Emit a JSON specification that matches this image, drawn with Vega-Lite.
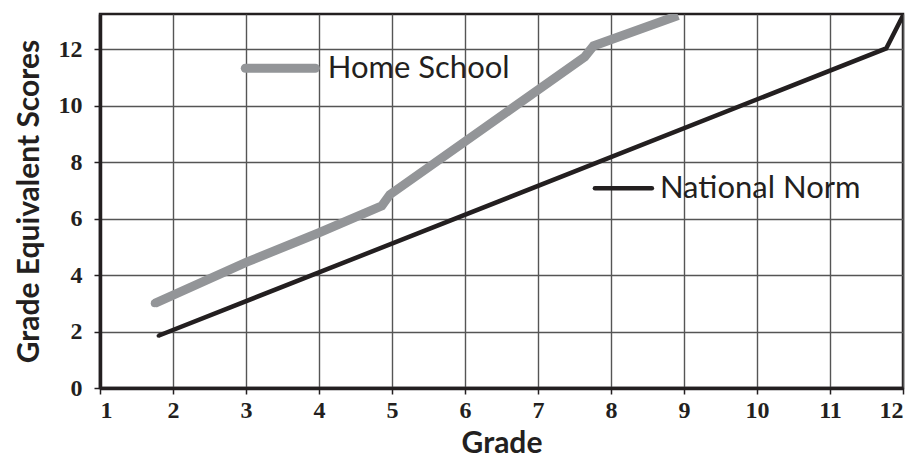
{
  "$schema": "https://vega.github.io/schema/vega-lite/v6.json",
  "width": 803,
  "height": 374,
  "autosize": {"type": "none"},
  "padding": {"left": 100, "top": 14, "right": 17, "bottom": 76},
  "background": "white",
  "config": {
    "view": {"stroke": "#231f20", "strokeWidth": 2.5},
    "axis": {
      "gridColor": "#555555",
      "gridWidth": 1.4,
      "gridOpacity": 1,
      "domainColor": "#231f20",
      "domainWidth": 3.5,
      "tickColor": "#231f20",
      "tickWidth": 1.5,
      "tickSize": 6,
      "labelFont": "Liberation Serif",
      "labelFontWeight": "bold",
      "labelFontSize": 24,
      "labelColor": "#231f20",
      "titleFont": "Lato",
      "titleFontWeight": "bold",
      "titleFontSize": 30,
      "titleColor": "#231f20"
    }
  },
  "datasets": {
    "lines": [
      {"series": "Home School", "grade": 1.75, "score": 3.0},
      {"series": "Home School", "grade": 3.0, "score": 4.45},
      {"series": "Home School", "grade": 4.0, "score": 5.5},
      {"series": "Home School", "grade": 4.86, "score": 6.45},
      {"series": "Home School", "grade": 4.97, "score": 6.85},
      {"series": "Home School", "grade": 7.64, "score": 11.73},
      {"series": "Home School", "grade": 7.76, "score": 12.12},
      {"series": "Home School", "grade": 8.92, "score": 13.2},
      {"series": "National Norm", "grade": 1.8, "score": 1.85},
      {"series": "National Norm", "grade": 11.77, "score": 12.03},
      {"series": "National Norm", "grade": 12.0, "score": 13.2}
    ],
    "keys": [
      {"series": "Home School", "x1": 2.99, "x2": 3.95, "y": 11.33, "tx": 4.12},
      {"series": "National Norm", "x1": 7.78, "x2": 8.56, "y": 7.08, "tx": 8.67}
    ]
  },
  "layer": [
    {
      "data": {"name": "lines"},
      "mark": {"type": "line", "strokeCap": "butt", "strokeJoin": "miter", "clip": true},
      "encoding": {
        "x": {
          "field": "grade", "type": "quantitative",
          "scale": {"domain": [1, 12], "nice": false, "zero": false},
          "axis": {"values": [1,2,3,4,5,6,7,8,9,10,11,12], "format": "d", "title": "Grade", "labelPadding": 4, "titlePadding": 6, "grid": true}
        },
        "y": {
          "field": "score", "type": "quantitative",
          "scale": {"domain": [0, 13.25], "nice": false},
          "axis": {"values": [0,2,4,6,8,10,12], "title": "Grade Equivalent Scores", "labelPadding": 12, "titlePadding": 14, "grid": true}
        },
        "color": {"field": "series", "type": "nominal", "scale": {"domain": ["Home School", "National Norm"], "range": ["#939598", "#231f20"]}, "legend": null},
        "strokeWidth": {"field": "series", "type": "nominal", "scale": {"domain": ["Home School", "National Norm"], "range": [9, 4.5]}, "legend": null},
        "detail": {"field": "series"}
      }
    },
    {
      "data": {"name": "lines"},
      "transform": [{"filter": "datum.grade < 2"}],
      "mark": {"type": "point", "filled": true, "opacity": 1, "clip": true},
      "encoding": {
        "x": {"field": "grade", "type": "quantitative"},
        "y": {"field": "score", "type": "quantitative"},
        "color": {"field": "series", "type": "nominal", "scale": {"domain": ["Home School", "National Norm"], "range": ["#939598", "#231f20"]}, "legend": null},
        "size": {"field": "series", "type": "nominal", "scale": {"domain": ["Home School", "National Norm"], "range": [64, 14]}, "legend": null}
      }
    },
    {
      "data": {"name": "keys"},
      "mark": {"type": "rule", "strokeCap": "round"},
      "encoding": {
        "x": {"field": "x1", "type": "quantitative"},
        "x2": {"field": "x2"},
        "y": {"field": "y", "type": "quantitative"},
        "color": {"field": "series", "type": "nominal", "scale": {"domain": ["Home School", "National Norm"], "range": ["#939598", "#231f20"]}, "legend": null},
        "strokeWidth": {"field": "series", "type": "nominal", "scale": {"domain": ["Home School", "National Norm"], "range": [9, 4.5]}, "legend": null}
      }
    },
    {
      "data": {"name": "keys"},
      "mark": {"type": "text", "align": "left", "baseline": "middle", "font": "Lato", "fontSize": 31, "color": "#231f20", "dy": 1},
      "encoding": {
        "x": {"field": "tx", "type": "quantitative"},
        "y": {"field": "y", "type": "quantitative"},
        "text": {"field": "series"}
      }
    }
  ]
}
